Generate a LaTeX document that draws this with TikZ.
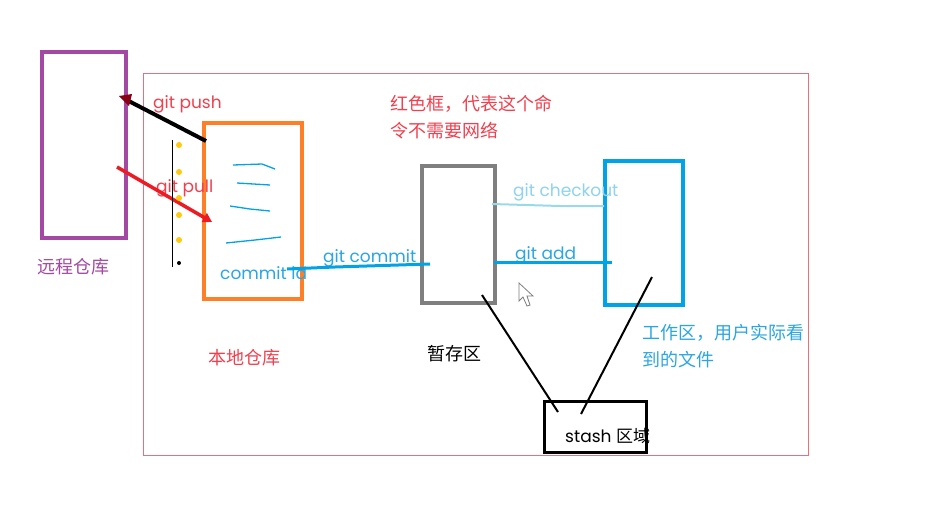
\documentclass[tikz,border=0pt]{standalone}
\usepackage{fontspec}
\setmainfont{Poppins}
\newfontfamily\cjk{Noto Sans CJK SC}
\usetikzlibrary{arrows.meta,calc}
\definecolor{cpurple}{HTML}{A349A4}
\definecolor{corange}{HTML}{FF7F27}
\definecolor{cgray}{HTML}{7F7F7F}
\definecolor{cblue}{HTML}{00A2E8}
\definecolor{clblue}{HTML}{99D9EA}
\definecolor{cred}{HTML}{ED1C24}
\definecolor{cframe}{HTML}{E8707A}
\definecolor{cdark}{HTML}{880015}
\definecolor{tred}{HTML}{F0404F}
\definecolor{tblue}{HTML}{2AA6E2}
\definecolor{tlblue}{HTML}{8FD3EC}
\definecolor{cyel}{HTML}{FFC90E}
\tikzset{
  box/.style={draw, line width=4pt, inner sep=0pt},
  lbl/.style={font=\fontsize{17}{19}\selectfont, inner sep=0pt, anchor=base west},
  cn/.style={font=\cjk\fontsize{18}{20}\selectfont, inner sep=0pt, anchor=base west},
}
\begin{document}
\begin{tikzpicture}[x=1pt,y=-1pt]
\useasboundingbox[fill=white] (0,0) rectangle (935,507);
% red frame
\node[draw=cframe, line width=1pt, minimum width=665pt, minimum height=382pt, inner sep=0pt, anchor=north west] (frame) at (143,73) {};
% boxes
\node[box, draw=cpurple, minimum width=84pt, minimum height=186pt, anchor=north west] (remote) at (40,50) {};
\node[box, draw=corange, minimum width=98pt, minimum height=176pt, anchor=north west] (local) at (202,121) {};
\node[box, draw=cgray, minimum width=73pt, minimum height=137pt, anchor=north west] (stage) at (420,164) {};
\node[box, draw=cblue, minimum width=78pt, minimum height=144pt, anchor=north west] (work) at (603,159) {};
\node[draw=black, line width=2.5pt, minimum width=102pt, minimum height=51pt, inner sep=0pt, anchor=north west] (stash) at (543,400) {};
% labels
\node[cn, text=cpurple] (lremote) at (37,273) {远程仓库};
\node[cn, text=tred] (llocal) at (208,364) {本地仓库};
\node[cn, text=black] (lstage) at (427,360) {暂存区};
\node[cn, text=tred] (lnote1) at (390,110) {红色框，代表这个命};
\node[cn, text=tred] (lnote2) at (390,137) {令不需要网络};
\node[cn, text=tblue] (lwork1) at (642,339) {工作区，用户实际看};
\node[cn, text=tblue] (lwork2) at (642,366) {到的文件};
\node[lbl, text=black, font=\fontsize{17}{19}\selectfont] (lstash) at (565,442) {stash {\cjk 区域}};
\node[lbl, text=tred] (lpush) at (153,108) {git push};
\node[lbl, text=tred] (lpull) at (156,192) {git pull};
\node[lbl, text=tblue] (lcid) at (220,279) {commit id};
\node[lbl, text=tblue] (lcommit) at (323,262) {git commit};
\node[lbl, text=tlblue] (lcheckout) at (513,196) {git checkout};
\node[lbl, text=tblue] (ladd) at (515,259) {git add};
% connector end points
\coordinate (pushA) at (206,141);
\coordinate (pushB) at (119,96);
\coordinate (pullA) at (117,167);
\coordinate (pullB) at (212,222);
\coordinate (comA) at (287,269);
\coordinate (comB) at (430,264);
\coordinate (coA) at (492,204);
\coordinate (coB) at (604,206);
\coordinate (addA) at (494,262);
\coordinate (addB) at (612,262);
\coordinate (s1A) at (482,295);
\coordinate (s1B) at (558,412);
\coordinate (s2A) at (652,277);
\coordinate (s2B) at (581,414);
% connectors
\draw[line width=4pt, black] (pushA) -- ($(pushB)!0.1!(pushA)$);
\fill[cdark] (pushB) -- ++(13,-2) -- ++(-3,12) -- cycle;
\draw[line width=3.5pt, cred, -{Triangle[length=9pt,width=10pt]}] (pullA) -- (pullB);
\draw[line width=3pt, cblue] (comA) -- (335,267) -- (comB);
\draw[line width=2pt, clblue] (coA) -- (560,206) -- (coB);
\draw[line width=3pt, cblue] (addA) -- (addB);
\draw[line width=2pt, black] (s1A) -- (s1B);
\draw[line width=2pt, black] (s2A) -- (s2B);
% decorations in local repo
\draw[cblue, line width=1.3pt] (233,165) -- (262,164) -- (275,169);
\draw[cblue, line width=1.3pt] (237,183) -- (270,185);
\draw[cblue, line width=1.3pt] (230,206) -- (250,209) -- (270,211);
\draw[cblue, line width=1.3pt] (226,243) -- (255,240) -- (281,237);
\draw[black, line width=1pt] (172,140) -- (172,267);
\foreach \yy in {145,172,198,215,240} \fill[cyel] (179,\yy) circle (3);
\fill[black] (179,263) circle (2);
% mouse cursor
\draw[cgray, fill=white, line width=0.8pt] (519,283) -- (519,301) -- (523,297) -- (527,306) -- (530,305) -- (527,296) -- (533,296) -- cycle;
\end{tikzpicture}
\end{document}
